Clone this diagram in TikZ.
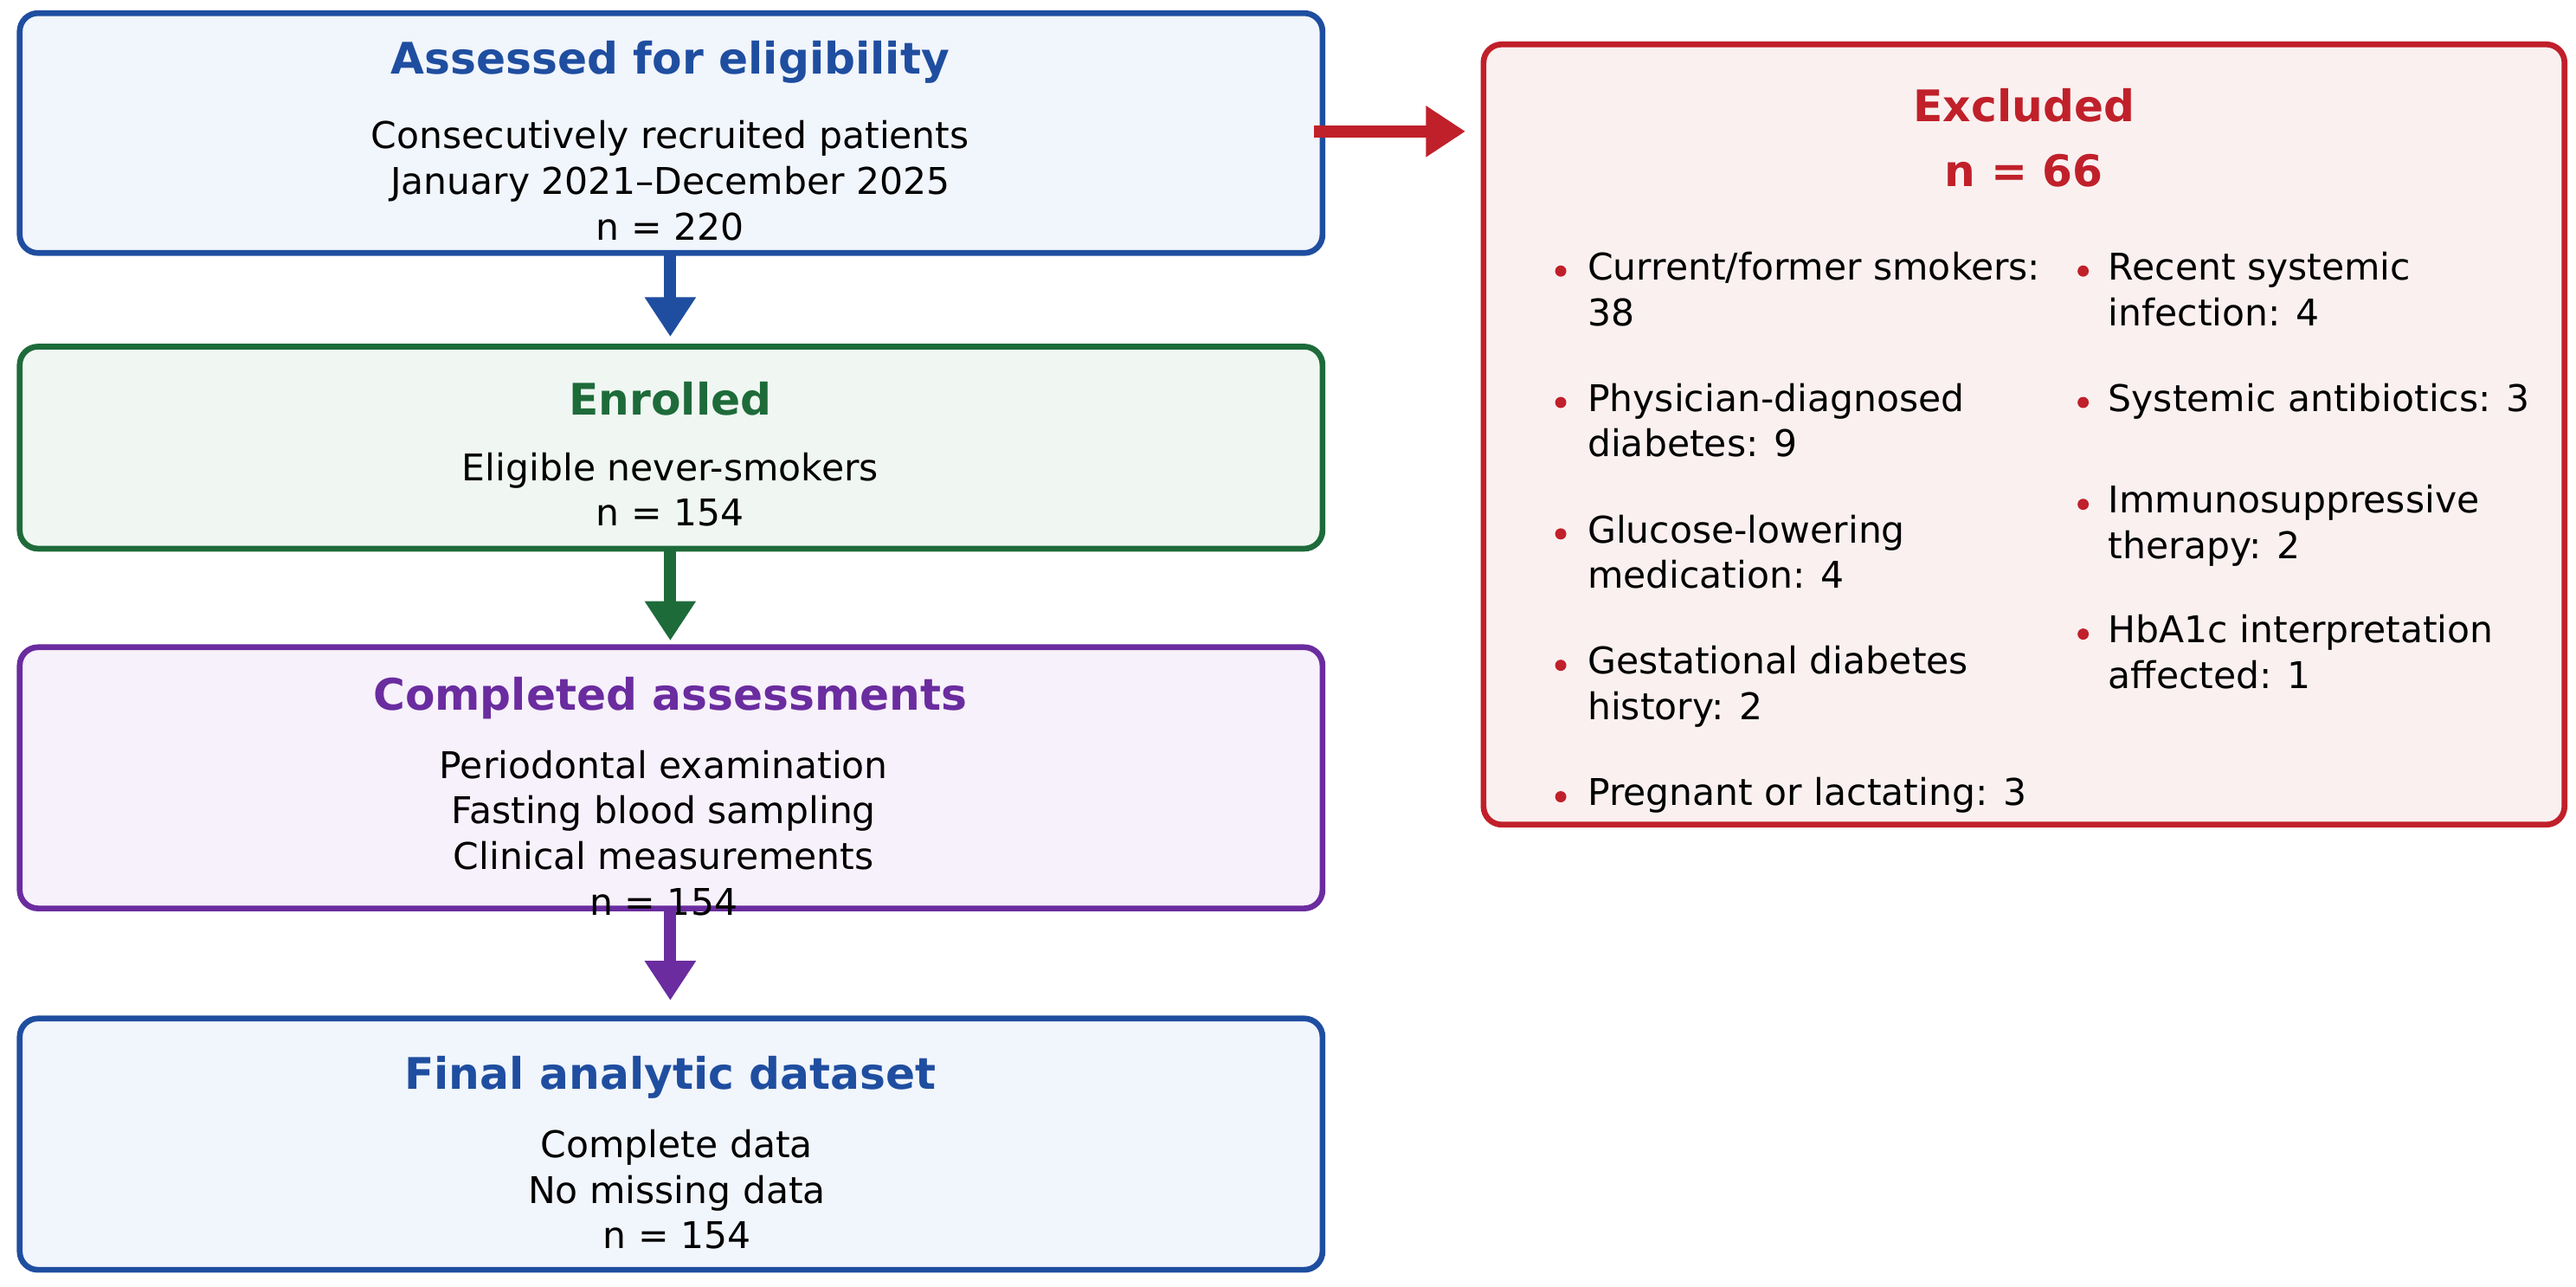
\documentclass[tikz,border=0pt]{standalone}
\usepackage{fontspec}
\setmainfont{DejaVu Sans}
\usetikzlibrary{arrows.meta}
\definecolor{cblue}{RGB}{31,78,160}\definecolor{fblue}{RGB}{241,245,252}
\definecolor{cgreen}{RGB}{30,107,58}\definecolor{fgreen}{RGB}{240,247,242}
\definecolor{cpurp}{RGB}{106,44,159}\definecolor{fpurp}{RGB}{247,241,251}
\definecolor{cred}{RGB}{192,32,42}\definecolor{fred}{RGB}{250,240,240}
\begin{document}
\begin{tikzpicture}[x=0.01898cm,y=-0.01898cm,
 box/.style={draw=#1,line width=1.9pt,rounded corners=6pt},
 ttl/.style={font=\fontsize{14.3}{17}\selectfont\bfseries,text=#1},
 body/.style={font=\fontsize{12.1}{15}\selectfont,align=center},
 itm/.style={font=\fontsize{12.1}{15}\selectfont,align=left,anchor=north west,inner sep=0pt},
 bul/.style={circle,fill=cred,inner sep=1.3pt},
 arr/.style={draw=#1,line width=4pt,-{Triangle[length=13pt,width=16pt]}}]
\useasboundingbox (0,0) rectangle (1568,783);
\draw[box=cblue,fill=fblue] (12,8) rectangle (805,154);
\draw[box=cgreen,fill=fgreen] (12,211) rectangle (805,334);
\draw[box=cpurp,fill=fpurp] (12,394) rectangle (805,553);
\draw[box=cblue,fill=fblue] (12,620) rectangle (805,773);
\draw[box=cred,fill=fred] (903,27) rectangle (1561,502);
\coordinate (b1s) at (408,154); \coordinate (b2n) at (408,205);
\coordinate (b2s) at (408,334); \coordinate (b3n) at (408,390);
\coordinate (b3s) at (408,553); \coordinate (b4n) at (408,609);
\coordinate (b1e) at (800,80); \coordinate (exw) at (892,80);
\node[ttl=cblue] (t1) at (408,38) {Assessed for eligibility};
\node[body] (x1) at (408,110) {Consecutively recruited patients\\January 2021–December 2025\\n = 220};
\node[ttl=cgreen] (t2) at (408,243) {Enrolled};
\node[body] (x2) at (408,298) {Eligible never-smokers\\n = 154};
\node[ttl=cpurp] (t3) at (408,425) {Completed assessments};
\node[body] (x3) at (404,507) {Periodontal examination\\Fasting blood sampling\\Clinical measurements\\n = 154};
\node[ttl=cblue] (t4) at (408,656) {Final analytic dataset};
\node[body] (x4) at (412,724) {Complete data\\No missing data\\n = 154};
\node[ttl=cred] (te) at (1232,64) {Excluded};
\node[ttl=cred] (tn) at (1232,104) {n = 66};
\draw[arr=cblue] (b1s) -- (b2n);
\draw[arr=cgreen] (b2s) -- (b3n);
\draw[arr=cpurp] (b3s) -- (b4n);
\draw[arr=cred] (b1e) -- (exw);
\foreach \n/\y/\t in {a/153/{Current/former smokers:\\38},b/233/{Physician-diagnosed\\diabetes: 9},c/313/{Glucose-lowering\\medication: 4},d/393/{Gestational diabetes\\history: 2},e/473/{Pregnant or lactating: 3}}{
 \node[bul] (bl\n) at (950,\y+12) {};
 \node[itm] (il\n) at (966,\y) {\t};}
\foreach \n/\y/\t in {a/153/{Recent systemic\\infection: 4},b/233/{Systemic antibiotics: 3},c/295/{Immunosuppressive\\therapy: 2},d/374/{HbA1c interpretation\\affected: 1}}{
 \node[bul] (br\n) at (1268,\y+12) {};
 \node[itm] (ir\n) at (1283,\y) {\t};}
\end{tikzpicture}
\end{document}
